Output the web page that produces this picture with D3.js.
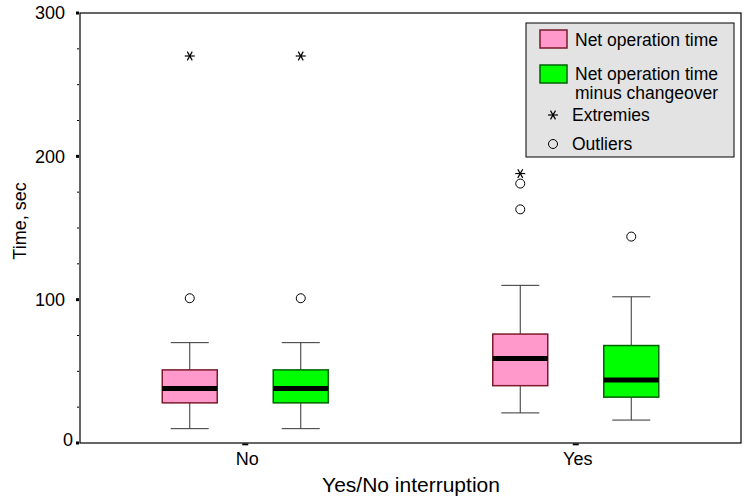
<!DOCTYPE html>
<html>
<head>
<meta charset="utf-8">
<script src="https://cdn.jsdelivr.net/npm/d3@7"></script>
<style>
  html, body { margin: 0; padding: 0; background: #fff; }
  svg { display: block; font-family: Arial, "Liberation Sans", sans-serif; }
</style>
</head>
<body>
<div id="chart"></div>
<script>
// ---- Data ----
const categories = ["No", "Yes"];
const seriesNames = ["Net operation time", "Net operation time minus changeover"];
// [whisker low, Q1, median, Q3, whisker high] per category
const netOpStats = [[10, 28, 38, 51, 70], [21, 40, 59, 76, 110]];
const netOpMinusStats = [[10, 28, 38, 51, 70], [16, 32, 44, 68, 102]];
const netOpOutliers = [[101], [163, 181]];
const netOpMinusOutliers = [[101], [144]];
const netOpExtremes = [[270], [188]];
const netOpMinusExtremes = [[270], []];
const yTicks = [0, 100, 200, 300];
const yMinorTicks = [25, 50, 75, 125, 150, 175, 225, 250, 275];
const seriesColors = ["#ff99cc", "#00ff00"];
const seriesBorders = ["#7a1a2a", "#006400"];

const W = 744, H = 504;
const pLeft = 80, pRight = 741, pTop = 13, pBottom = 443;

const svg = d3.select("#chart").append("svg").attr("width", W).attr("height", H);

const x = d3.scaleBand().domain(categories).range([pLeft, pRight]);
const xInner = d3.scalePoint().domain(seriesNames).range([-55.5, 55.5]);
const y = d3.scaleLinear().domain([0, 300]).range([pBottom, pTop]);

// frame
svg.append("rect").attr("x", pLeft).attr("y", pTop).attr("width", pRight - pLeft).attr("height", pBottom - pTop)
  .attr("fill", "none").attr("stroke", "#000").attr("stroke-width", 1.2);

// y axis ticks
svg.selectAll(".ymaj").data(yTicks).enter().append("rect")
  .attr("x", pLeft - 4).attr("y", d => y(d) - 1.5).attr("width", 3).attr("height", 3).attr("fill", "#000");
svg.selectAll(".ymin").data(yMinorTicks).enter().append("line")
  .attr("x1", pLeft - 3).attr("x2", pLeft - 1).attr("y1", d => y(d)).attr("y2", d => y(d))
  .attr("stroke", "#000").attr("stroke-width", 1);
svg.selectAll(".ylab").data(yTicks).enter().append("text")
  .attr("x", d => d === 0 ? 73 : 65)
  .attr("y", d => d === 0 ? y(d) - 3 : y(d))
  .attr("dy", "0.35em")
  .attr("text-anchor", "end").attr("font-size", 18).attr("fill", "#000")
  .text(d => d);

// x axis small ticks & labels
svg.selectAll(".xt").data(categories).enter().append("rect")
  .attr("x", d => x(d) + x.bandwidth() / 2 - 3).attr("y", pBottom + 0.5).attr("width", 6).attr("height", 1.8)
  .attr("fill", "#000");
svg.selectAll(".xl").data(categories).enter().append("text")
  .attr("x", d => x(d) + x.bandwidth() / 2 + 2).attr("y", 465)
  .attr("text-anchor", "middle").attr("font-size", 18).attr("fill", "#000")
  .text(d => d);

// axis titles
svg.append("text").attr("x", 411).attr("y", 492).attr("text-anchor", "middle")
  .attr("font-size", 21).attr("fill", "#000").text("Yes/No interruption");
svg.append("text").attr("transform", "translate(26,221) rotate(-90)").attr("text-anchor", "middle")
  .attr("font-size", 18).attr("fill", "#000").text("Time, sec");

// boxes
const allStats = [netOpStats, netOpMinusStats];
const allOutliers = [netOpOutliers, netOpMinusOutliers];
const allExtremes = [netOpExtremes, netOpMinusExtremes];
const boxW = 55, capW = 38;

function asterisk(g, cx, cy, r) {
  [0, 60, 120].forEach(a => {
    const rad = a * Math.PI / 180;
    g.append("line")
      .attr("x1", cx - r * Math.cos(rad)).attr("y1", cy - r * Math.sin(rad))
      .attr("x2", cx + r * Math.cos(rad)).attr("y2", cy + r * Math.sin(rad))
      .attr("stroke", "#000").attr("stroke-width", 1.2);
  });
}

seriesNames.forEach((s, si) => {
  categories.forEach((c, ci) => {
    const st = allStats[si][ci];
    const cx = x(c) + x.bandwidth() / 2 + xInner(s);
    const g = svg.append("g");
    g.append("line").attr("x1", cx).attr("x2", cx).attr("y1", y(st[0])).attr("y2", y(st[1]))
      .attr("stroke", "#333").attr("stroke-width", 1);
    g.append("line").attr("x1", cx).attr("x2", cx).attr("y1", y(st[3])).attr("y2", y(st[4]))
      .attr("stroke", "#333").attr("stroke-width", 1);
    g.append("line").attr("x1", cx - capW / 2).attr("x2", cx + capW / 2).attr("y1", y(st[0])).attr("y2", y(st[0]))
      .attr("stroke", "#333").attr("stroke-width", 1);
    g.append("line").attr("x1", cx - capW / 2).attr("x2", cx + capW / 2).attr("y1", y(st[4])).attr("y2", y(st[4]))
      .attr("stroke", "#333").attr("stroke-width", 1);
    g.append("rect").attr("x", cx - boxW / 2).attr("y", y(st[3])).attr("width", boxW)
      .attr("height", y(st[1]) - y(st[3]))
      .attr("fill", seriesColors[si]).attr("stroke", seriesBorders[si]).attr("stroke-width", 1.5);
    g.append("line").attr("x1", cx - boxW / 2).attr("x2", cx + boxW / 2).attr("y1", y(st[2])).attr("y2", y(st[2]))
      .attr("stroke", "#000").attr("stroke-width", 5);
    allOutliers[si][ci].forEach(v => {
      g.append("circle").attr("cx", cx).attr("cy", y(v)).attr("r", 4.5)
        .attr("fill", "none").attr("stroke", "#000").attr("stroke-width", 1);
    });
    allExtremes[si][ci].forEach(v => asterisk(g, cx, y(v), 5));
  });
});

// legend
const lg = svg.append("g");
lg.append("rect").attr("x", 526).attr("y", 23).attr("width", 208).attr("height", 134)
  .attr("fill", "#e3e3e3").attr("stroke", "#000").attr("stroke-width", 1);
lg.append("rect").attr("x", 540).attr("y", 30).attr("width", 27).attr("height", 18)
  .attr("fill", seriesColors[0]).attr("stroke", seriesBorders[0]).attr("stroke-width", 1.5);
lg.append("rect").attr("x", 540).attr("y", 65).attr("width", 27).attr("height", 18)
  .attr("fill", seriesColors[1]).attr("stroke", seriesBorders[1]).attr("stroke-width", 1.5);
const legendText = [
  { t: "Net operation time", x: 575, y: 46 },
  { t: "Net operation time", x: 575, y: 80 },
  { t: "minus changeover", x: 575, y: 99 },
  { t: "Extremies", x: 572, y: 121 },
  { t: "Outliers", x: 572, y: 150 }
];
lg.selectAll(".lt").data(legendText).enter().append("text")
  .attr("x", d => d.x).attr("y", d => d.y).attr("font-size", 17.5).attr("fill", "#000")
  .text(d => d.t);
asterisk(lg, 553, 115, 5);
lg.append("circle").attr("cx", 553).attr("cy", 144).attr("r", 4.5)
  .attr("fill", "none").attr("stroke", "#000").attr("stroke-width", 1);
</script>
</body>
</html>
